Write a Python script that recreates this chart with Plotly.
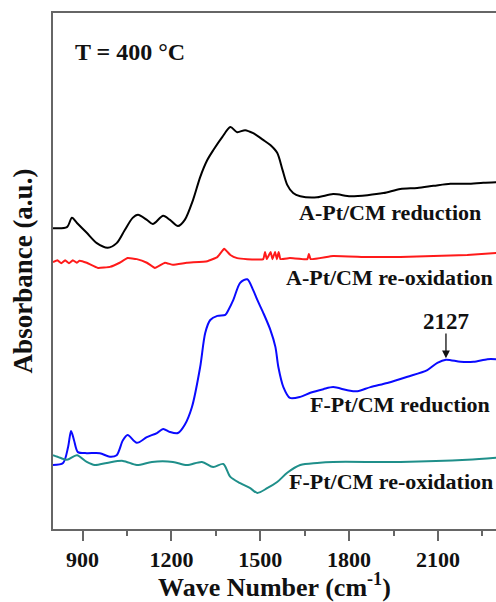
import plotly.graph_objects as go

# FTIR difference spectra at 400 °C (wavenumber in cm^-1, absorbance in a.u.)
a_red_wn = [800, 847, 864, 881, 914, 948, 985, 1015, 1042, 1069, 1087, 1117, 1137, 1172, 1195,
            1222, 1245, 1273, 1297, 1321, 1341, 1372, 1399, 1422, 1449, 1476, 1510, 1534, 1557,
            1575, 1591, 1611, 1635, 1692, 1746, 1804, 1862, 1916, 1973, 2030, 2085, 2142, 2199,
            2253, 2297]
a_red_abs = [0.583, 0.585, 0.603, 0.593, 0.574, 0.554, 0.545, 0.554, 0.579, 0.603, 0.609, 0.599,
             0.591, 0.607, 0.599, 0.587, 0.599, 0.638, 0.682, 0.715, 0.734, 0.760, 0.779, 0.769,
             0.773, 0.767, 0.754, 0.744, 0.729, 0.696, 0.667, 0.651, 0.645, 0.643, 0.649, 0.645,
             0.647, 0.651, 0.659, 0.661, 0.665, 0.669, 0.669, 0.671, 0.672]

a_ox_wn = [800, 815, 828, 841, 854, 867, 880, 890, 914, 952, 992, 1025, 1052, 1083, 1117, 1144,
           1178, 1205, 1252, 1321, 1355, 1378, 1399, 1422, 1456, 1510, 1516, 1522, 1535, 1541,
           1550, 1556, 1562, 1568, 1600, 1659, 1664, 1670, 1746, 1862, 1973, 2085, 2199, 2297]
a_ox_abs = [0.517, 0.521, 0.515, 0.521, 0.515, 0.521, 0.516, 0.520, 0.516, 0.506, 0.508, 0.516,
            0.525, 0.523, 0.516, 0.506, 0.516, 0.512, 0.516, 0.519, 0.527, 0.543, 0.531, 0.525,
            0.523, 0.523, 0.537, 0.523, 0.537, 0.523, 0.537, 0.523, 0.537, 0.523, 0.525, 0.523,
            0.533, 0.523, 0.529, 0.527, 0.527, 0.529, 0.531, 0.535]

f_red_wn = [800, 834, 851, 861, 871, 884, 914, 958, 992, 1015, 1036, 1052, 1083, 1117, 1151, 1172,
            1195, 1222, 1245, 1269, 1297, 1314, 1331, 1355, 1382, 1392, 1409, 1432, 1456, 1476,
            1490, 1510, 1534, 1551, 1561, 1578, 1600, 1635, 1669, 1713, 1746, 1794, 1828, 1872,
            1929, 1997, 2064, 2098, 2127, 2176, 2220, 2267, 2297]
f_red_abs = [0.124, 0.128, 0.159, 0.190, 0.172, 0.149, 0.147, 0.147, 0.140, 0.143, 0.172, 0.182,
             0.167, 0.178, 0.186, 0.194, 0.188, 0.186, 0.202, 0.236, 0.314, 0.380, 0.405, 0.413,
             0.415, 0.424, 0.444, 0.477, 0.484, 0.463, 0.444, 0.419, 0.386, 0.353, 0.314, 0.275,
             0.254, 0.256, 0.264, 0.271, 0.275, 0.269, 0.267, 0.275, 0.283, 0.295, 0.308, 0.322,
             0.328, 0.324, 0.324, 0.329, 0.329]

f_ox_wn = [800, 824, 847, 881, 914, 941, 982, 1036, 1083, 1134, 1205, 1252, 1303, 1341, 1375,
           1399, 1432, 1466, 1490, 1523, 1557, 1591, 1635, 1692, 1746, 1973, 2199, 2297]
f_ox_abs = [0.143, 0.138, 0.134, 0.143, 0.130, 0.124, 0.128, 0.132, 0.124, 0.130, 0.130, 0.124,
            0.130, 0.120, 0.126, 0.101, 0.089, 0.079, 0.070, 0.079, 0.091, 0.109, 0.124, 0.128,
            0.130, 0.130, 0.134, 0.138]

x_ticks = [900, 1200, 1500, 1800, 2100]
peak_wn = 2127

FONT = "Liberation Serif, Times New Roman, serif"
AXIS = "#666666"
X_MAX = 2296

series = [
    ("A-Pt/CM reduction", a_red_wn, a_red_abs, "#000000", 0.8),
    ("A-Pt/CM re-oxidation", a_ox_wn, a_ox_abs, "#ff1a1a", 0.3),
    ("F-Pt/CM reduction", f_red_wn, f_red_abs, "#0a0aff", 0.8),
    ("F-Pt/CM re-oxidation", f_ox_wn, f_ox_abs, "#1f8f8a", 0.8),
]

fig = go.Figure()
for name, xs, ys, col, smooth in series:
    fig.add_trace(go.Scatter(x=xs, y=ys, mode="lines", name=name,
                             line=dict(color=col, width=2, shape="spline", smoothing=smooth),
                             showlegend=False))

label_font = dict(family=FONT, size=22, color="#111111", weight="bold")
annotations = [
    dict(x=867, y=0.924, text="T = 400 °C", xanchor="left", yanchor="middle",
         font=dict(family=FONT, size=24, color="#111111", weight="bold")),
    dict(x=1938, y=0.614, text="A-Pt/CM reduction", xanchor="center", yanchor="middle",
         font=label_font),
    dict(x=X_MAX - 2, y=0.488, text="A-Pt/CM re-oxidation", xanchor="right", yanchor="middle",
         font=label_font),
    dict(x=1973, y=0.242, text="F-Pt/CM reduction", xanchor="center", yanchor="middle",
         font=label_font),
    dict(x=X_MAX - 2, y=0.093, text="F-Pt/CM re-oxidation", xanchor="right", yanchor="middle",
         font=label_font),
    dict(x=peak_wn, y=0.403, text=str(peak_wn), xanchor="center", yanchor="middle",
         font=dict(family=FONT, size=23, color="#111111", weight="bold")),
]
for a in annotations:
    a.update(xref="x", yref="y", showarrow=False)

# arrow marking the 2127 cm^-1 band
annotations.append(dict(x=peak_wn, y=0.331, ax=peak_wn, ay=0.382, xref="x", yref="y",
                        axref="x", ayref="y", text="", showarrow=True, arrowhead=2,
                        arrowsize=1.2, arrowwidth=1.3, arrowcolor="#111111"))

fig.update_layout(
    width=496, height=602,
    margin=dict(l=53, r=0, t=13, b=73),
    paper_bgcolor="white", plot_bgcolor="white",
    annotations=annotations,
    xaxis=dict(
        range=[800, X_MAX], tickvals=x_ticks, ticktext=[str(v) for v in x_ticks],
        showline=True, linecolor=AXIS, linewidth=2, mirror=True,
        ticks="outside", ticklen=10, tickwidth=1.5, tickcolor=AXIS,
        minor=dict(tickvals=[1050, 1350, 1650, 1950, 2250], ticks="outside", ticklen=5,
                   tickwidth=1.5, tickcolor=AXIS),
        showgrid=False, zeroline=False,
        tickfont=dict(family=FONT, size=22, color="#111111", weight="bold"),
        title=dict(text="Wave Number (cm<sup>-1</sup>)", standoff=6,
                   font=dict(family=FONT, size=26, color="#111111", weight="bold")),
    ),
    yaxis=dict(
        range=[0, 1], showline=True, linecolor=AXIS, linewidth=2, mirror=False,
        showticklabels=False, ticks="", showgrid=False, zeroline=False,
        title=dict(text="Absorbance (a.u.)", standoff=11,
                   font=dict(family=FONT, size=27, color="#111111", weight="bold")),
    ),
)

fig.write_html("out.html")
